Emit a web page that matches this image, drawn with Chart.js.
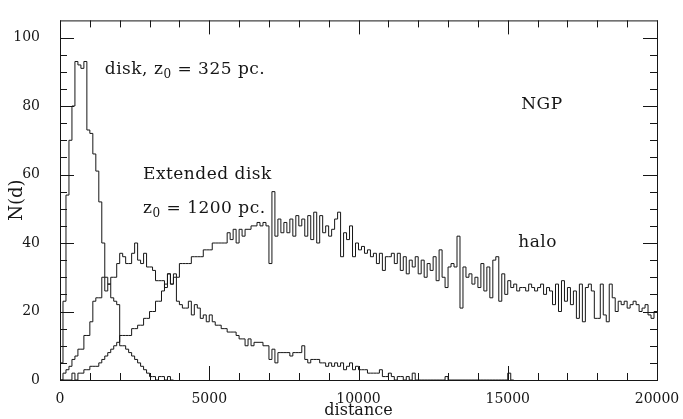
<!DOCTYPE html>
<html>
<head>
<meta charset="utf-8">
<script src="https://cdn.jsdelivr.net/npm/chart.js@4"></script>
<style>
  html, body { margin: 0; padding: 0; background: #fff; }
  #wrap { width: 683px; height: 419px; }
</style>
</head>
<body>
<div id="wrap"><canvas id="chart" width="683" height="419"></canvas></div>
<script>
// star counts per 100 pc bin, starting at distance 0
const BIN = 100;

const diskCounts = [
  5, 23, 54, 70, 80, 93, 92, 91, 93, 73,
  72, 66, 61, 52, 40, 30, 28, 24, 23, 22,
  10, 10, 9, 8, 7, 6, 5, 4, 3, 2,
  1, 1, 0, 1, 1, 0, 1, 0
];

const extCounts = [
  0, 2, 3, 4, 6, 7, 9, 9, 13, 13,
  17, 23, 24, 24, 30, 26, 28, 30, 30, 34,
  37, 36, 34, 34, 37, 40, 35, 34, 37, 33,
  33, 32, 29, 29, 29, 27, 31, 28, 30, 23,
  22, 21, 21, 23, 19, 22, 21, 18, 19, 17,
  19, 17, 16, 16, 15, 15, 14, 14, 14, 13,
  12, 12, 10, 12, 10, 11, 11, 11, 10, 10,
  6, 9, 5, 8, 8, 8, 8, 7, 8, 8,
  8, 10, 6, 5, 6, 6, 6, 5, 5, 4,
  5, 4, 5, 4, 5, 3, 4, 5, 3, 4,
  3, 3, 3, 2, 2, 2, 2, 3, 1, 1,
  2, 1, 0, 1, 1, 0, 1, 0, 2, 0,
  0, 0, 0, 0, 0, 0, 0, 0, 0, 1,
  0, 0, 0, 0, 0, 0, 0, 0, 0, 0,
  0, 0, 0, 0, 0, 0, 0, 0, 0, 0,
  2, 0
];

const haloCounts = [
  0, 0, 0, 0, 2, 0, 2, 2, 3, 3,
  4, 4, 4, 5, 6, 7, 8, 9, 10, 11,
  13, 13, 13, 13, 15, 15, 16, 16, 18, 18,
  20, 20, 23, 23, 26, 28, 31, 28, 31, 30,
  34, 34, 34, 34, 36, 36, 36, 36, 38, 38,
  38, 40, 40, 40, 40, 40, 43, 41, 44, 40,
  44, 42, 44, 44, 45, 45, 46, 45, 46, 45,
  34, 55, 42, 47, 43, 46, 43, 47, 42, 48,
  45, 47, 42, 48, 41, 49, 40, 48, 43, 45,
  42, 44, 47, 49, 36, 43, 41, 45, 36, 40,
  38, 39, 37, 38, 36, 37, 34, 37, 32, 36,
  36, 37, 34, 37, 32, 36, 31, 35, 33, 36,
  31, 35, 30, 34, 32, 36, 29, 38, 30, 27,
  33, 34, 33, 42, 21, 33, 30, 31, 28, 30,
  27, 34, 26, 33, 24, 35, 36, 23, 31, 25,
  29, 27, 28, 26, 27, 27, 26, 28, 27, 26,
  27, 28, 25, 27, 26, 22, 28, 20, 29, 23,
  27, 22, 26, 18, 28, 17, 27, 28, 26, 18,
  18, 28, 19, 17, 28, 24, 20, 23, 22, 23,
  21, 22, 23, 22, 20, 21, 22, 19, 18, 20
];

const xTicks = [0, 5000, 10000, 15000, 20000];
const yTicks = [0, 20, 40, 60, 80, 100];

const INK = '#161616';
const SERIF = "'DejaVu Serif', serif";

// bin edges -> points for a step line (value held until the next edge)
function steps(counts) {
  const pts = counts.map((v, i) => ({ x: i * BIN, y: v }));
  pts.push({ x: counts.length * BIN, y: counts[counts.length - 1] });
  return pts;
}

function histSet(label, counts) {
  return {
    label,
    data: steps(counts),
    stepped: true,
    borderColor: INK,
    borderWidth: 1,
    pointRadius: 0,
    fill: false
  };
}

// box round the plot plus inward ticks on all four sides
const framePlugin = {
  id: 'frame',
  afterDatasetsDraw(chart) {
    const { ctx, chartArea: a, scales: { x, y } } = chart;
    ctx.save();
    ctx.strokeStyle = INK;
    ctx.lineWidth = 1;
    ctx.strokeRect(a.left + 0.5, a.top + 0.5, a.right - a.left, a.bottom - a.top);
    ctx.beginPath();
    for (let v = 0; v <= 20000; v += 1000) {
      const px = Math.round(x.getPixelForValue(v)) + 0.5;
      const len = v % 5000 === 0 ? 14 : 7;
      ctx.moveTo(px, a.bottom); ctx.lineTo(px, a.bottom - len);
      ctx.moveTo(px, a.top); ctx.lineTo(px, a.top + len);
    }
    for (let v = 0; v < 105; v += 5) {
      const py = Math.round(y.getPixelForValue(v)) + 0.5;
      const len = v % 20 === 0 ? 14 : 7;
      ctx.moveTo(a.left, py); ctx.lineTo(a.left + len, py);
      ctx.moveTo(a.right, py); ctx.lineTo(a.right - len, py);
    }
    ctx.stroke();
    ctx.restore();
  }
};

// text pieces; 'sub' pieces are drawn smaller and lowered
function drawRich(ctx, parts, x, y, size) {
  let cx = x;
  ctx.textBaseline = 'middle';
  ctx.textAlign = 'left';
  ctx.letterSpacing = '0.5px';
  parts.forEach(([text, kind]) => {
    const s = kind === 'sub' ? Math.round(size * 0.68) : size;
    ctx.font = s + 'px ' + SERIF;
    ctx.fillText(text, cx, kind === 'sub' ? y + size * 0.3 : y);
    cx += ctx.measureText(text).width;
  });
}

const notes = [
  { at: [1500, 90.5], size: 17, parts: [['disk, z', ''], ['0', 'sub'], [' = 325 pc.', '']] },
  { at: [2780, 60], size: 17, parts: [['Extended disk', '']] },
  { at: [2780, 50], size: 17, parts: [['z', ''], ['0', 'sub'], [' = 1200 pc.', '']] },
  { at: [15450, 80.5], size: 17, parts: [['NGP', '']] },
  { at: [15350, 40], size: 17, parts: [['halo', '']] }
];

const notesPlugin = {
  id: 'notes',
  afterDraw(chart) {
    const { ctx, scales: { x, y } } = chart;
    ctx.save();
    ctx.fillStyle = INK;
    notes.forEach(n => {
      drawRich(ctx, n.parts, x.getPixelForValue(n.at[0]), y.getPixelForValue(n.at[1]), n.size);
    });
    ctx.restore();
  }
};

new Chart(document.getElementById('chart'), {
  type: 'line',
  data: {
    datasets: [
      histSet('disk', diskCounts),
      histSet('extended disk', extCounts),
      histSet('halo', haloCounts)
    ]
  },
  options: {
    responsive: false,
    animation: false,
    layout: { padding: { top: 12, right: 26, left: 0, bottom: 0 } },
    plugins: { legend: { display: false }, tooltip: { enabled: false } },
    scales: {
      x: {
        type: 'linear',
        min: 0,
        max: 20000,
        afterBuildTicks: s => { s.ticks = xTicks.map(v => ({ value: v })); },
        afterFit: s => { s.height = 39; },
        grid: { display: false },
        border: { display: false },
        ticks: { color: INK, font: { family: SERIF, size: 14 }, padding: 3, maxRotation: 0, callback: v => String(v) },
        title: { display: true, text: 'distance', color: INK, font: { family: SERIF, size: 16, lineHeight: 1 }, padding: { top: 0, bottom: 0 } }
      },
      y: {
        type: 'linear',
        min: 0,
        max: 105,
        afterBuildTicks: s => { s.ticks = yTicks.map(v => ({ value: v })); },
        afterFit: s => { s.width = 60; },
        grid: { display: false },
        border: { display: false },
        ticks: { color: INK, font: { family: SERIF, size: 14 }, padding: 12, callback: v => String(v) },
        title: { display: true, text: 'N(d)', color: INK, font: { family: SERIF, size: 18, lineHeight: 1.2 }, padding: { top: 7, bottom: 0 } }
      }
    }
  },
  plugins: [framePlugin, notesPlugin]
});
</script>
</body>
</html>
